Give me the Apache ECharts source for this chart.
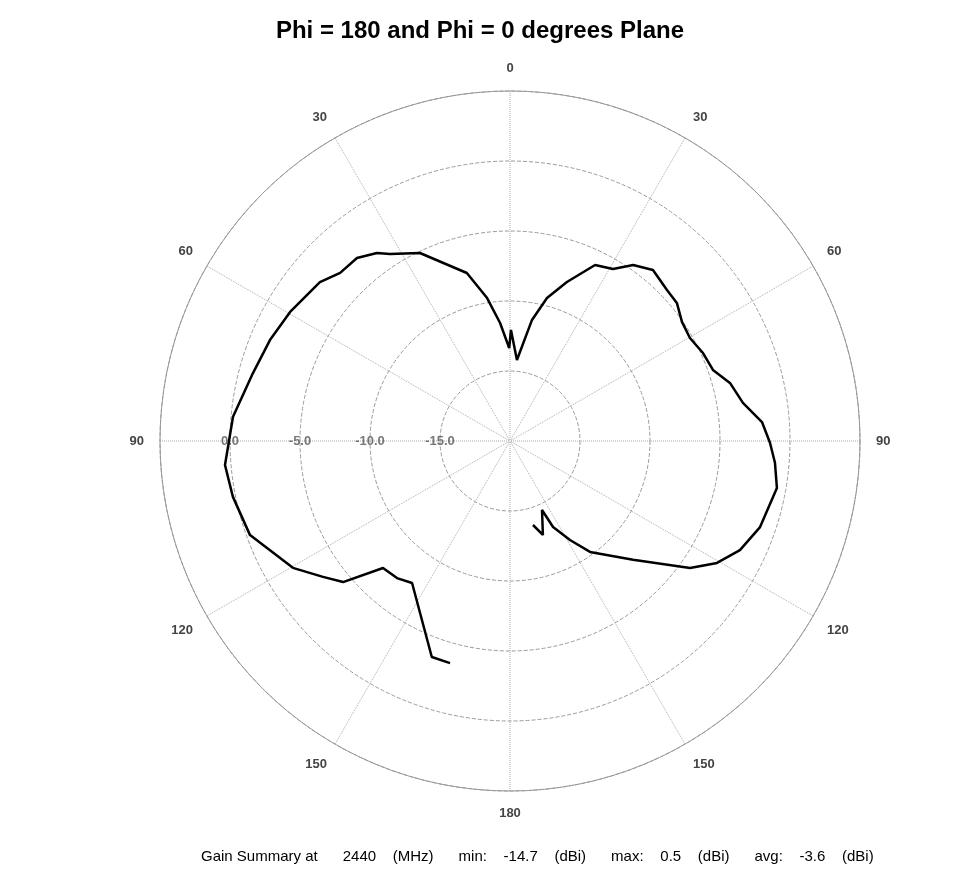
<!DOCTYPE html>
<html><head><meta charset="utf-8">
<script src="https://cdn.jsdelivr.net/npm/echarts@6/dist/echarts.min.js"></script>
<style>html,body{margin:0;padding:0;background:#fff}#c{width:960px;height:891px}</style>
</head><body><div id="c"></div>
<script>
// angle (deg, clockwise from top; >180 means the Phi=180 half) and gain (dBi)
const angles = [164.7,160.7,155.1,153.4,148.8,144.2,134.0,125.2,120.5,115.4,109.0,100.0,94.7,90.4,85.7,80.7,75.2,70.7,65.5,60.2,55.3,50.4,46.1,39.9,35.0,30.9,25.8,19.7,14.5,10.3,4.9,0.5,359.5,355.2,350.9,345.6,334.4,327.3,324.7,320.1,314.7,309.9,300.4,292.8,284.8,275.0,265.2,258.6,250.1,239.7,234.0,229.8,225.0,219.5,214.6,199.9,195.1];
const gains = [-13.78,-12.89,-14.57,-13.13,-11.73,-10.23,-7.78,-4.26,-2.84,-1.82,-1.11,-0.64,-1.01,-1.43,-1.95,-3.14,-3.75,-4.64,-4.85,-5.19,-5.06,-4.53,-4.44,-4.08,-4.66,-5.68,-6.04,-7.94,-9.45,-11.21,-14.19,-12.07,-13.36,-11.54,-9.66,-7.61,-5.11,-4.13,-3.55,-2.96,-2.93,-2.30,-1.79,-1.40,-1.01,-0.14,0.43,0.19,-0.25,-2.04,-3.49,-4.39,-7.17,-7.31,-7.68,-3.59,-3.57];
const radialLabels = [-15,-10,-5,0];
const titleText = 'Phi = 180 and Phi = 0 degrees Plane';
const summaryText = 'Gain Summary at      2440    (MHz)      min:    -14.7    (dBi)      max:    0.5    (dBi)      avg:    -3.6    (dBi)';

const data = angles.map((a,i)=>[gains[i], a]);
const chart = echarts.init(document.getElementById('c'));
const font = 'Liberation Sans, Arial';
chart.setOption({
  animation:false,
  title:[
    {text:titleText,left:'center',top:14,textStyle:{fontFamily:font,fontSize:24,fontWeight:'bold',color:'#000'}},
    {text:summaryText,left:196,top:844,textStyle:{fontFamily:font,fontSize:15,fontWeight:'normal',color:'#000'}}
  ],
  polar:{center:[510,441],radius:350},
  angleAxis:{
    type:'value',min:0,max:360,interval:30,startAngle:90,clockwise:true,
    axisLine:{show:true,lineStyle:{color:'#999',width:1}},
    axisTick:{show:false},
    axisLabel:{margin:16,color:'#444',fontSize:13,fontWeight:'bold',fontFamily:font,
      formatter:v=>v>=360?'':String(v<=180?v:360-v)},
    splitLine:{show:true,lineStyle:{color:'#aaa',type:'dotted',width:1}}
  },
  radiusAxis:{
    type:'value',min:-20,max:5,interval:5,
    axisLine:{show:false},axisTick:{show:false},axisLabel:{show:false},
    splitLine:{show:true,lineStyle:{color:'#999',type:'dashed',width:1}}
  },
  series:[
    {type:'line',coordinateSystem:'polar',data:data,showSymbol:false,symbol:'none',
      lineStyle:{color:'#000',width:2.5},z:5},
    {type:'scatter',coordinateSystem:'polar',symbolSize:0,silent:true,z:4,
      data:radialLabels.map(v=>[v,270]),
      label:{show:true,position:'inside',color:'#555',fontSize:13,fontWeight:'bold',fontFamily:font,
        formatter:p=>p.value[0].toFixed(1)}}
  ]
});
</script></body></html>
